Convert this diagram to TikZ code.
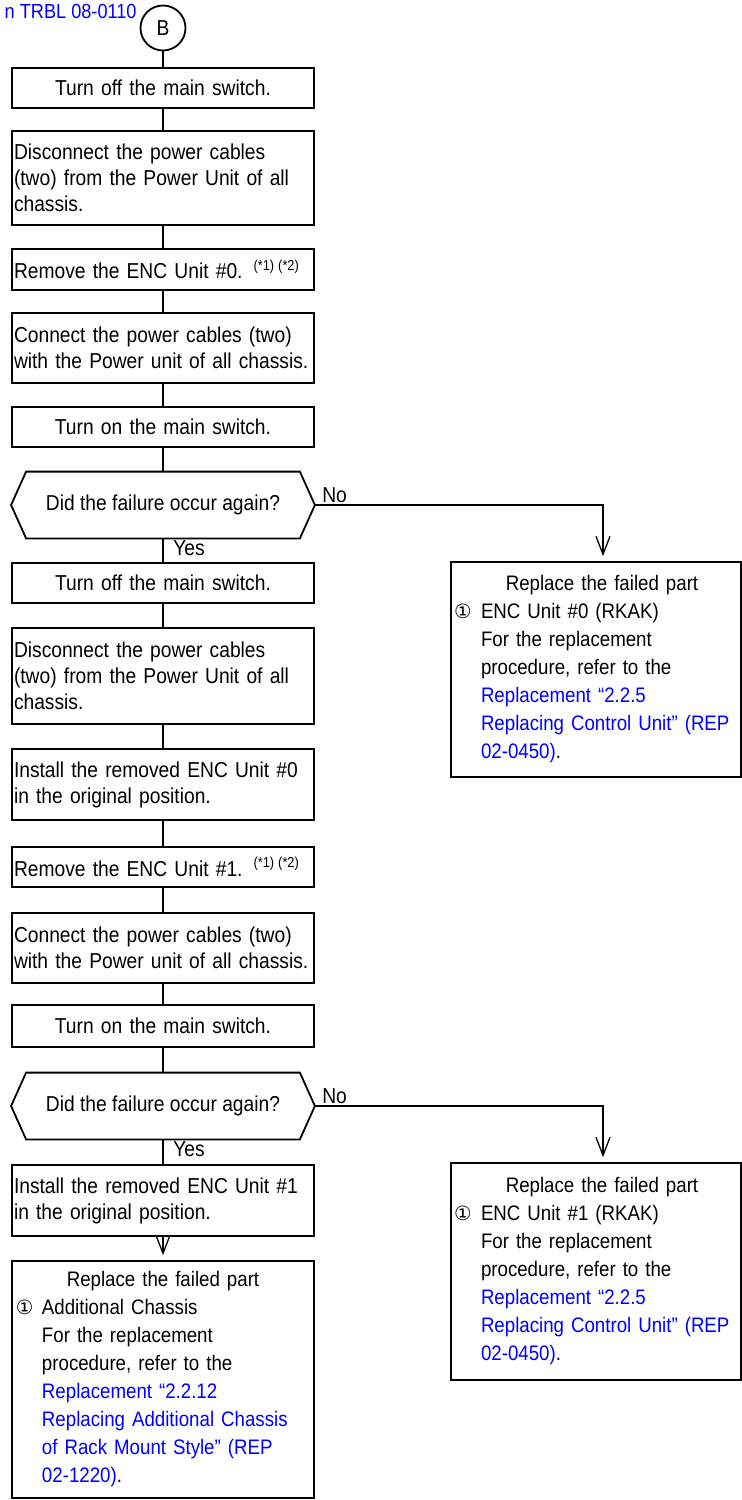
\documentclass[tikz,border=0pt]{standalone}
\usepackage{fontspec}
\setmainfont{Liberation Sans}[FakeStretch=0.89]
\newfontfamily\symfont{DejaVu Sans}
\usepackage{tikz}
\usetikzlibrary{arrows.meta, positioning, calc}
\usepackage{xcolor}
\definecolor{refblue}{RGB}{0,0,255}
\setlength{\parindent}{0pt}
\newcommand{\boxfont}{\fontsize{10.8}{13}\selectfont}
\newcommand{\resfont}{\fontsize{10.5}{14}\selectfont}
\newcommand{\reffont}{\fontsize{10.2}{11}\selectfont}
\newcommand{\notes}{\hspace{5.5pt}\raisebox{0.4em}{\fontsize{7.2}{7.2}\selectfont (*1)\hspace{2pt}(*2)}}
\newcommand{\circone}[1]{\makebox[#1][l]{\symfont\fontsize{9.8}{14}\selectfont ①}}

\begin{document}
\begin{tikzpicture}[x=0.5pt, y=-0.5pt,
  stepbox/.style={draw, line width=0.9pt, text width=149pt, inner xsep=1pt, inner ysep=0pt, font=\boxfont},
  stepleft/.style={stepbox, align=left},
  stepmid/.style={stepbox, align=center},
  askbox/.style={inner sep=0pt, minimum width=151.5pt, minimum height=33pt, font=\boxfont},
  resultbox/.style={draw, line width=0.9pt, inner xsep=1.5pt, inner ysep=0pt, font=\resfont},
  flow/.style={line width=0.9pt},
  flowarrow/.style={line width=0.65pt, -{Straight Barb[length=9pt,width=7pt]}, shorten >=2.5pt},
  lbl/.style={inner sep=1pt, font=\boxfont}]
  \useasboundingbox (0,0) rectangle (742,1500);

  % entry
  \node[anchor=east, inner sep=0pt, text=refblue, font=\reffont] (backref) at (137,11) {n TRBL 08-0110};
  \node[draw, circle, line width=0.9pt, minimum size=22.5pt, inner sep=0pt, font=\boxfont] (markB) at (163,28) {B};

  % first check
  \node[stepmid, minimum height=20pt] (turnoffA) at (163,88) {Turn off the main switch.};
  \node[stepleft, minimum height=47pt] (disconnA) at (163,178) {Disconnect the power cables\\(two) from the Power Unit of all\\chassis.};
  \node[stepleft, minimum height=20.5pt] (removeA) at (163,269.5) {Remove the ENC Unit \#0.\notes};
  \node[stepleft, minimum height=35pt] (connectA) at (163,348) {Connect the power cables (two)\\with the Power unit of all chassis.};
  \node[stepmid, minimum height=20pt] (turnonA) at (163,427) {Turn on the main switch.};
  \node[askbox] (askA) at (163,505) {Did the failure occur again?};

  % second check
  \node[stepmid, minimum height=20pt] (turnoffB) at (163,583) {Turn off the main switch.};
  \node[stepleft, minimum height=48pt] (disconnB) at (163,676) {Disconnect the power cables\\(two) from the Power Unit of all\\chassis.};
  \node[stepleft, minimum height=35.5pt] (installA) at (163,784.5) {Install the removed ENC Unit \#0\\in the original position.};
  \node[stepleft, minimum height=20pt] (removeB) at (163,867) {Remove the ENC Unit \#1.\notes};
  \node[stepleft, minimum height=35pt] (connectB) at (163,948) {Connect the power cables (two)\\with the Power unit of all chassis.};
  \node[stepmid, minimum height=21pt] (turnonB) at (163,1026) {Turn on the main switch.};
  \node[askbox] (askB) at (163,1106) {Did the failure occur again?};
  \node[stepleft, minimum height=35.5pt] (installB) at (163,1200.5) {Install the removed ENC Unit \#1\\in the original position.};

  % replacements
  \node[resultbox, inner xsep=2pt, text width=147pt, minimum height=118.5pt] (replChassis) at (163,1379.5) {%
    \centering Replace the failed part\par
    \raggedright\circone{13pt}Additional Chassis\par
    \leftskip=13pt For the replacement\par
    procedure, refer to the\par
    \textcolor{refblue}{Replacement “2.2.12}\par
    \mbox{\textcolor{refblue}{Replacing Additional Chassis}}\par
    \mbox{\textcolor{refblue}{of Rack Mount Style” (REP}}\par
    \textcolor{refblue}{02-1220)}.\par};
  \node[resultbox, text width=142pt, minimum height=107.5pt] (replEncA) at (596,669.5) {%
    \centering\hspace*{6pt}Replace the failed part\par
    \raggedright\circone{13.5pt}ENC Unit \#0 (RKAK)\par
    \leftskip=13.5pt For the replacement\par
    procedure, refer to the\par
    \textcolor{refblue}{Replacement “2.2.5}\par
    \mbox{\textcolor{refblue}{Replacing Control Unit” (REP}}\par
    \textcolor{refblue}{02-0450)}.\par};
  \node[resultbox, text width=142pt, minimum height=108.5pt] (replEncB) at (596,1271.5) {%
    \centering\hspace*{6pt}Replace the failed part\par
    \raggedright\circone{13.5pt}ENC Unit \#1 (RKAK)\par
    \leftskip=13.5pt For the replacement\par
    procedure, refer to the\par
    \textcolor{refblue}{Replacement “2.2.5}\par
    \mbox{\textcolor{refblue}{Replacing Control Unit” (REP}}\par
    \textcolor{refblue}{02-0450)}.\par};

  % hexagons
  \foreach \d in {askA, askB}
    \draw[flow] (\d.west) -- ([xshift=7.5pt]\d.north west) -- ([xshift=-7.5pt]\d.north east)
      -- (\d.east) -- ([xshift=-7.5pt]\d.south east) -- ([xshift=7.5pt]\d.south west) -- cycle;

  % main line
  \foreach \a/\b in {markB/turnoffA, turnoffA/disconnA, disconnA/removeA, removeA/connectA,
      connectA/turnonA, turnonA/askA, askA/turnoffB, turnoffB/disconnB, disconnB/installA,
      installA/removeB, removeB/connectB, connectB/turnonB, turnonB/askB, askB/installB}
    \draw[flow] (\a) -- (\b);
  \draw[flowarrow] (installB) -- (replChassis);

  % branches
  \draw[flowarrow] (askA.east) -| ([xshift=3.5pt]replEncA.north);
  \draw[flowarrow] (askB.east) -| ([xshift=3.5pt]replEncB.north);
  \node[lbl, anchor=south west] (noA) at ([xshift=2.5pt]askA.east) {No};
  \node[lbl, anchor=south west] (noB) at ([xshift=2.5pt]askB.east) {No};
  \node[lbl, anchor=north west] (yesA) at ([xshift=4pt]askA.south) {Yes};
  \node[lbl, anchor=north west] (yesB) at ([xshift=4pt]askB.south) {Yes};
\end{tikzpicture}
\end{document}
